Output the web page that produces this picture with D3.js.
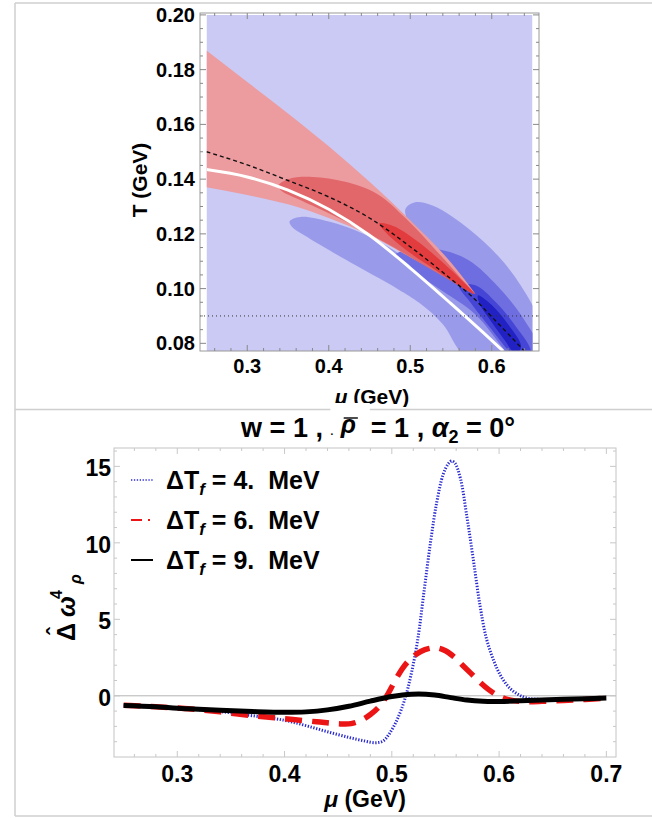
<!DOCTYPE html>
<html>
<head>
<meta charset="utf-8">
<script src="https://cdn.jsdelivr.net/npm/d3@7"></script>
<style>
  body { margin: 0; background: #fff; }
  svg { display: block; }
  text { font-family: "Liberation Sans", Arial, sans-serif; font-weight: bold; fill: #000; }
</style>
</head>
<body>
<svg id="chart" width="652" height="818"></svg>
<script>
// ---------------- upper panel: (mu, T) plane ----------------
const topMuTicks = [0.3, 0.4, 0.5, 0.6];
const topTTicks = [0.08, 0.10, 0.12, 0.14, 0.16, 0.18, 0.20];
const topTTickLabels = ["0.08", "0.10", "0.12", "0.14", "0.16", "0.18", "0.20"];
const muFill = [0.25, 0.65];
const tFill = [0.0772, 0.2];
const tFreezeOut = 0.09;

// white crossover curve
const crossoverCurve = [[0.25,0.1435],[0.30,0.1408],[0.35,0.1360],[0.40,0.1290],[0.45,0.1195],
  [0.50,0.1075],[0.55,0.0945],[0.59,0.0838],[0.614,0.0772]];
// black dashed curve
const dashedCurve = [[0.25,0.150],[0.30,0.1452],[0.35,0.1395],[0.40,0.1335],[0.45,0.1258],
  [0.50,0.1153],[0.55,0.1035],[0.575,0.0973],[0.60,0.0897],[0.62,0.0835],[0.64,0.0772]];

// red band (fan) limits
const redFanMu    = [0.25,  0.30,  0.35,  0.40,  0.45,  0.50,  0.55,  0.58];
const redFanUpper = [0.1870,0.1755,0.1640,0.1520,0.1390,0.1250,0.1095,0.0980];
const redFanLower = [0.1370,0.1342,0.1308,0.1258,0.1195,0.1115,0.1035,0.0980];
// inner red contours
const redMidRegion = [[0.338,0.1375],[0.350,0.1400],[0.380,0.1408],[0.420,0.1390],[0.460,0.1345],
  [0.495,0.1255],[0.530,0.1145],[0.560,0.1045],[0.578,0.0982],[0.555,0.1020],[0.520,0.1080],
  [0.480,0.1150],[0.440,0.1215],[0.400,0.1275],[0.360,0.1330],[0.343,0.1355]];
const redCoreRegion = [[0.462,0.1238],[0.480,0.1228],[0.510,0.1170],[0.540,0.1095],[0.565,0.1025],
  [0.579,0.0980],[0.560,0.1010],[0.530,0.1070],[0.500,0.1130],[0.475,0.1190]];

// blue contours (outer to inner)
const blueOuterA = [[0.352,0.1246],[0.365,0.1262],[0.400,0.1245],[0.450,0.1190],[0.500,0.1100],
  [0.550,0.0990],[0.600,0.0870],[0.645,0.0740],[0.600,0.0720],[0.565,0.0760],[0.540,0.0870],
  [0.511,0.0948],[0.485,0.0998],[0.420,0.1107],[0.370,0.1195],[0.355,0.1225]];
const blueOuterB = [[0.494,0.1290],[0.505,0.1315],[0.528,0.1303],[0.572,0.1218],[0.615,0.1095],
  [0.650,0.0940],[0.672,0.0790],[0.668,0.0700],[0.630,0.0720],[0.590,0.0860],[0.550,0.1010],
  [0.520,0.1150],[0.500,0.1230]];
const blueMid = [[0.481,0.1122],[0.500,0.1145],[0.5355,0.1143],[0.5717,0.1104],[0.6079,0.1007],
  [0.640,0.0885],[0.660,0.0760],[0.640,0.0700],[0.620,0.0760],[0.580,0.0905],[0.540,0.0990],
  [0.505,0.1060],[0.487,0.1100]];
const blueInner = [[0.560,0.1010],[0.580,0.1012],[0.605,0.0950],[0.630,0.0860],[0.648,0.0770],
  [0.640,0.0730],[0.625,0.0760],[0.600,0.0850],[0.575,0.0945]];
const blueCore = [[0.583,0.0975],[0.600,0.0940],[0.620,0.0870],[0.636,0.0790],[0.630,0.0760],
  [0.615,0.0815],[0.597,0.0890],[0.585,0.0945]];

// ---------------- lower panel: Delta omega^4 vs mu ----------------
const botMuTicks = [0.3, 0.4, 0.5, 0.6, 0.7];
const botYTicks = [0, 5, 10, 15];
const legendLabels = ["4.", "6.", "9."];

const curveDT4 = [[0.25,-0.62],[0.28,-0.70],[0.31,-0.85],[0.34,-1.03],[0.37,-1.30],[0.40,-1.60],
  [0.42,-1.95],[0.44,-2.35],[0.46,-2.72],[0.475,-2.96],[0.485,-3.07],[0.492,-2.95],[0.498,-2.45],
  [0.505,-1.55],[0.512,-0.25],[0.518,1.4],[0.524,3.6],[0.530,6.8],[0.536,10.0],[0.542,12.7],
  [0.548,14.5],[0.553,15.2],[0.556,15.35],[0.559,15.2],[0.564,14.2],[0.570,11.7],[0.576,8.9],
  [0.582,6.0],[0.588,3.8],[0.595,2.3],[0.602,1.25],[0.610,0.5],[0.618,0.08],[0.626,-0.15],
  [0.640,-0.24],[0.66,-0.22],[0.68,-0.19],[0.70,-0.15]];
const curveDT6 = [[0.25,-0.62],[0.28,-0.72],[0.31,-0.85],[0.34,-1.05],[0.37,-1.30],[0.40,-1.50],
  [0.43,-1.70],[0.45,-1.83],[0.462,-1.82],[0.472,-1.58],[0.48,-1.22],[0.488,-0.72],[0.495,-0.05],
  [0.502,0.85],[0.51,1.8],[0.518,2.45],[0.527,2.9],[0.535,3.1],[0.542,3.14],[0.55,2.95],
  [0.558,2.55],[0.566,2.0],[0.574,1.45],[0.582,0.9],[0.59,0.42],[0.598,0.05],[0.606,-0.2],
  [0.615,-0.33],[0.625,-0.38],[0.64,-0.36],[0.66,-0.3],[0.68,-0.24],[0.70,-0.16]];
const curveDT9 = [[0.25,-0.64],[0.28,-0.72],[0.31,-0.85],[0.34,-0.95],[0.37,-1.03],[0.40,-1.08],
  [0.42,-1.05],[0.44,-0.92],[0.46,-0.68],[0.48,-0.35],[0.50,-0.05],[0.51,0.05],[0.525,0.12],
  [0.54,0.05],[0.555,-0.12],[0.57,-0.28],[0.585,-0.36],[0.60,-0.37],[0.62,-0.32],[0.64,-0.27],
  [0.66,-0.23],[0.68,-0.19],[0.70,-0.15]];

// =====================================================================
const svg = d3.select("#chart");

// page borders
const border = svg.append("g").attr("stroke", "#cfcfcf").attr("stroke-width", 1.5).attr("fill", "none");
border.append("line").attr("x1", 15).attr("y1", 3).attr("x2", 652).attr("y2", 3);
border.append("line").attr("x1", 15).attr("y1", 3).attr("x2", 15).attr("y2", 816);
border.append("line").attr("x1", 15).attr("y1", 816).attr("x2", 652).attr("y2", 816);
border.append("line").attr("x1", 15).attr("y1", 409.5).attr("x2", 652).attr("y2", 409.5);

function drawTicks(g, xs, ys, xMajor, xMinor, yMajor, yMinor, col, maj, min) {
  const [x0, x1] = xs.range();
  const [y0, y1] = ys.range(); // y0 bottom, y1 top
  const t = g.append("g").attr("stroke", col).attr("stroke-width", 1);
  const add = (a, b, c, d) => t.append("line").attr("x1", a).attr("y1", b).attr("x2", c).attr("y2", d);
  xMajor.forEach(v => { const x = xs(v); add(x, y0, x, y0 - maj); add(x, y1, x, y1 + maj); });
  xMinor.forEach(v => { const x = xs(v); add(x, y0, x, y0 - min); add(x, y1, x, y1 + min); });
  yMajor.forEach(v => { const y = ys(v); add(x0, y, x0 + maj, y); add(x1, y, x1 - maj, y); });
  yMinor.forEach(v => { const y = ys(v); add(x0, y, x0 + min, y); add(x1, y, x1 - min, y); });
}
const near = (arr, v) => arr.some(a => Math.abs(a - v) < 1e-9);

// ---------------- upper panel ----------------
const xT = d3.scaleLinear().domain([0.242, 0.658]).range([200, 539]);
const yT = d3.scaleLinear().domain([0.0772, 0.2007]).range([351, 13]);
const topPanel = svg.append("g");

topPanel.append("clipPath").attr("id", "fillClip").append("rect")
  .attr("x", xT(muFill[0])).attr("y", yT(tFill[1]))
  .attr("width", xT(muFill[1]) - xT(muFill[0])).attr("height", yT(tFill[0]) - yT(tFill[1]));

const plane = topPanel.append("g").attr("clip-path", "url(#fillClip)");
plane.append("rect")
  .attr("x", xT(muFill[0])).attr("y", yT(tFill[1]))
  .attr("width", xT(muFill[1]) - xT(muFill[0])).attr("height", yT(tFill[0]) - yT(tFill[1]))
  .attr("fill", "#cacaf4");

const closed = d3.line().x(d => xT(d[0])).y(d => yT(d[1])).curve(d3.curveCatmullRomClosed.alpha(0.5));
[[blueOuterA, "#9a9aea"], [blueOuterB, "#9a9aea"], [blueMid, "#6e6ee0"],
 [blueInner, "#4646d6"], [blueCore, "#2222c4"]].forEach(([pts, c]) => {
  plane.append("path").attr("d", closed(pts)).attr("fill", c);
});

const fan = d3.area()
  .x((d, i) => xT(redFanMu[i]))
  .y0((d, i) => yT(redFanLower[i]))
  .y1((d, i) => yT(redFanUpper[i]))
  .curve(d3.curveMonotoneX);
plane.append("path").attr("d", fan(redFanMu)).attr("fill", "#ec9b9f");
plane.append("path").attr("d", closed(redMidRegion)).attr("fill", "#e2676b");
plane.append("path").attr("d", closed(redCoreRegion)).attr("fill", "#e23c3e");

const open = d3.line().x(d => xT(d[0])).y(d => yT(d[1])).curve(d3.curveMonotoneX);
plane.append("path").attr("d", open(crossoverCurve)).attr("fill", "none")
  .attr("stroke", "#fff").attr("stroke-width", 3);
plane.append("path").attr("d", open(dashedCurve)).attr("fill", "none")
  .attr("stroke", "#111").attr("stroke-width", 1.4).attr("stroke-dasharray", "4,3");

topPanel.append("line").attr("x1", xT.range()[0]).attr("x2", xT.range()[1])
  .attr("y1", yT(tFreezeOut)).attr("y2", yT(tFreezeOut))
  .attr("stroke", "#333").attr("stroke-width", 1).attr("stroke-dasharray", "1,3");

topPanel.append("rect").attr("x", 200).attr("y", 13).attr("width", 339).attr("height", 338)
  .attr("fill", "none").attr("stroke", "#9a9a9a").attr("stroke-width", 1);

const topMuMinor = d3.range(0.26, 0.6501, 0.02).map(v => +v.toFixed(3)).filter(v => !near(topMuTicks, v));
const topTMinor = d3.range(0.08, 0.2001, 0.005).map(v => +v.toFixed(3)).filter(v => !near(topTTicks, v));
drawTicks(topPanel, xT, yT, topMuTicks, topMuMinor, topTTicks, topTMinor, "#888", 6, 3);

topPanel.selectAll(".tx").data(topMuTicks).enter().append("text")
  .attr("x", d => xT(d)).attr("y", 373).attr("text-anchor", "middle")
  .attr("font-size", 20).text(d => d.toFixed(1));
topPanel.selectAll(".ty").data(topTTicks).enter().append("text")
  .attr("x", 195).attr("y", d => yT(d) + 7).attr("text-anchor", "end")
  .attr("font-size", 20).text((d, i) => topTTickLabels[i]);
topPanel.append("text").attr("transform", "translate(147,180) rotate(-90)")
  .attr("text-anchor", "middle").attr("font-size", 21).text("T (GeV)");

topPanel.append("clipPath").attr("id", "labClip").append("rect").attr("x", 0).attr("y", 0).attr("width", 652).attr("height", 407);
const topXLab = topPanel.append("text").attr("x", 372).attr("y", 404).attr("text-anchor", "middle")
  .attr("font-size", 21).attr("clip-path", "url(#labClip)");
topXLab.append("tspan").attr("font-style", "italic").text("μ");
topXLab.append("tspan").text(" (GeV)");

// ---------------- lower panel ----------------
const xB = d3.scaleLinear().domain([0.241, 0.709]).range([114, 616]);
const yB = d3.scaleLinear().domain([-4.0, 16.2]).range([757, 448]);
const bot = svg.append("g");

bot.append("rect").attr("x", 114).attr("y", 448).attr("width", 502).attr("height", 309)
  .attr("fill", "none").attr("stroke", "#c4c4c4").attr("stroke-width", 1);
bot.append("line").attr("x1", 114).attr("x2", 616).attr("y1", yB(0)).attr("y2", yB(0))
  .attr("stroke", "#b4b4b4").attr("stroke-width", 1);

const botMuMinor = d3.range(0.26, 0.7001, 0.02).map(v => +v.toFixed(3)).filter(v => !near(botMuTicks, v));
const botYMinor = d3.range(-3, 16.01, 1).filter(v => !near(botYTicks, v));
drawTicks(bot, xB, yB, botMuTicks, botMuMinor, botYTicks, botYMinor, "#c8c8c8", 6, 3);

const lineB = d3.line().x(d => xB(d[0])).y(d => yB(d[1])).curve(d3.curveCatmullRom.alpha(0.5));
bot.append("path").attr("d", lineB(curveDT4)).attr("fill", "none")
  .attr("stroke", "#2a2ad2").attr("stroke-width", 3).attr("stroke-dasharray", "1.3,1.6");
bot.append("path").attr("d", lineB(curveDT6)).attr("fill", "none")
  .attr("stroke", "#ec1515").attr("stroke-width", 5.5).attr("stroke-dasharray", "17,10");
bot.append("path").attr("d", lineB(curveDT9)).attr("fill", "none")
  .attr("stroke", "#000").attr("stroke-width", 5).attr("stroke-linejoin", "round");

bot.selectAll(".bx").data(botMuTicks).enter().append("text")
  .attr("x", d => xB(d)).attr("y", 782).attr("text-anchor", "middle")
  .attr("font-size", 23).text(d => d.toFixed(1));
bot.selectAll(".by").data(botYTicks).enter().append("text")
  .attr("x", 111).attr("y", d => yB(d) + 10).attr("text-anchor", "end")
  .attr("font-size", 23).text(d => d);

const botXLab = bot.append("text").attr("x", 365).attr("y", 807).attr("text-anchor", "middle").attr("font-size", 23);
botXLab.append("tspan").attr("font-style", "italic").text("μ");
botXLab.append("tspan").text(" (GeV)");

// y label: hat-Delta omega^4_rho
const yl = bot.append("g").attr("transform", "translate(75,641) rotate(-90)");
yl.append("text").attr("x", 0).attr("y", 0).attr("font-size", 25).text("Δ");
yl.append("text").attr("x", 6).attr("y", -12).attr("font-size", 22).attr("font-weight", "normal").text("ˆ");
yl.append("text").attr("x", 24).attr("y", 0).attr("font-size", 25).attr("font-style", "italic").text("ω");
yl.append("text").attr("x", 42).attr("y", -13).attr("font-size", 16).text("4");
yl.append("text").attr("x", 57).attr("y", 6).attr("font-size", 16).attr("font-style", "italic").text("ρ");

// legend
const legColors = ["#2a2ad2", "#ec1515", "#000"];
const legDash = ["1.3,1.6", "11,6,2,40", null];
legendLabels.forEach((lab, i) => {
  const y = 480 + i * 40;
  const l = bot.append("line").attr("x1", 131).attr("x2", 153).attr("y1", y).attr("y2", y)
    .attr("stroke", legColors[i]).attr("stroke-width", i === 0 ? 1.5 : 2);
  if (legDash[i]) l.attr("stroke-dasharray", legDash[i]);
  const t = bot.append("text").attr("x", 166).attr("y", y + 9).attr("font-size", 25)
    .attr("xml:space", "preserve").style("white-space", "pre");
  t.append("tspan").text("ΔT");
  t.append("tspan").attr("font-size", 17).attr("font-style", "italic").attr("dy", 6).text("f");
  t.append("tspan").attr("dy", -6).text(" = " + lab + "  MeV");
});

// title with inline rho-bar
const titleParts = [
  { t: "w = 1 , ", size: 27 },
  { t: ".", size: 10, dy: -2, dot: true },
  { t: " ", size: 27 },
  { t: "ρ", size: 25, style: "italic", weight: "normal", dy: -4, bar: true },
  { t: "  = 1 , ", size: 27 },
  { t: "α", size: 27, style: "italic" },
  { t: "2", size: 18, dy: 6 },
  { t: " = 0°", size: 27 }
];
const coverG = svg.append("g");
const tg = svg.append("g");
let cx = 0, dotX = 0, rhoEnd = 0;
titleParts.forEach(p => {
  const el = tg.append("text").attr("x", cx).attr("y", 437 + (p.dy || 0))
    .attr("font-size", p.size).attr("xml:space", "preserve").style("white-space", "pre").text(p.t);
  if (p.style) el.attr("font-style", p.style);
  if (p.weight) el.attr("font-weight", p.weight);
  const w = el.node().getComputedTextLength();
  if (p.dot) dotX = cx;
  if (p.bar) {
    tg.append("line").attr("x1", cx + 3).attr("x2", cx + w + 2).attr("y1", 418).attr("y2", 418)
      .attr("stroke", "#000").attr("stroke-width", 1.4);
    rhoEnd = cx + w;
  }
  cx += w;
});
const shift = 515 - cx;
tg.attr("transform", `translate(${shift},0)`);
// white backing of the inline rho-bar cell
coverG.append("rect").attr("x", shift + dotX).attr("y", 403)
  .attr("width", rhoEnd - dotX + 14).attr("height", 14).attr("fill", "#fff");
</script>
</body>
</html>
